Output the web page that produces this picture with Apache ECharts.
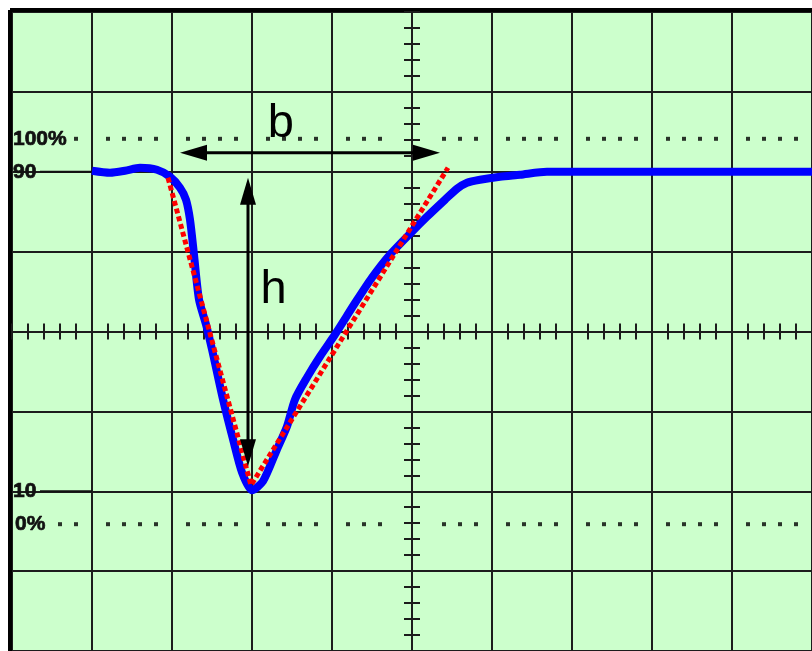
<!DOCTYPE html>
<html><head><meta charset="utf-8">
<script src="https://cdn.jsdelivr.net/npm/echarts@6/dist/echarts.min.js"></script>
<style>html,body{margin:0;padding:0;background:#fff}#c{width:812px;height:651px}</style>
</head><body><div id="c"></div>
<script>
// Units: screen divisions, origin at the centre of the graticule (x -5..5, y -4..4)
const signalX = [-4.0, -3.775, -3.5875, -3.4, -3.1875, -3.025, -2.9, -2.825, -2.775, -2.725, -2.6625, -2.575, -2.5, -2.3625, -2.2375, -2.125, -2.0, -1.8625, -1.6875, -1.5625, -1.4625, -1.3125, -1.15, -0.9625, -0.7, -0.5, -0.275, 0, 0.1875, 0.4125, 0.5625, 0.6875, 0.85, 1.1, 1.35, 1.6875, 1.975, 5.0];
const signalY = [2.0125, 1.9875, 2.0125, 2.05, 2.025, 1.9375, 1.8, 1.65, 1.4, 0.9625, 0.4, 0.0875, -0.225, -0.85, -1.35, -1.7625, -1.9875, -1.875, -1.475, -1.1875, -0.85, -0.575, -0.3125, -0.0375, 0.375, 0.675, 0.9625, 1.25, 1.4375, 1.65, 1.7875, 1.8625, 1.9, 1.9375, 1.9625, 2.0, 2.0, 2.0];
const slopeX = [-3.05, -2.0125, 0.45];
const slopeY = [1.925, -1.925, 2.05];
const levelLabels = ['100%', '90', '10', '0%'];
const levelValues = [2.4125, 2, -2, -2.4125];
const levelHasLine = [false, true, true, false];
const dotRowValues = [2.4125, -2.4125];
const dotRowStart = [-4.2, -4.4];
const arrowLabels = ['b', 'h'];
const arrowX1 = [-2.9, -2.05];
const arrowY1 = [2.2375, 1.925];
const arrowX2 = [0.35, -2.05];
const arrowY2 = [2.2375, -1.6875];
const arrowLabelX = [-1.64, -1.73];
const arrowLabelY = [2.594, 0.519];

const GRID = '#1c1c1c';
const chart = echarts.init(document.getElementById('c'), null, {renderer: 'canvas'});

const dots = [];
dotRowValues.forEach((y, r) => {
  for (let k = 0; k <= 50; k++) {
    const x = -5 + k * 0.2;
    if (k % 5 === 0 || k === 24 || k === 26) continue;
    if (x < dotRowStart[r] - 1e-6) continue;
    dots.push([x, y]);
  }
});

function centreAxis(dim, inside) {
  return {
    type: 'value', min: dim === 'x' ? -5 : -4, max: dim === 'x' ? 5 : 4, interval: 0.2,
    position: dim === 'x' ? 'bottom' : 'left',
    axisLine: {show: true, onZero: true, onZeroAxisIndex: 0, lineStyle: {color: GRID, width: 2}},
    axisTick: {show: true, inside: inside, length: 8, lineStyle: {color: GRID, width: 2}},
    axisLabel: {show: false}, splitLine: {show: false}
  };
}

const option = {
  backgroundColor: '#ffffff',
  animation: false,
  grid: {left: 12, top: 12, width: 800, height: 640, show: true, backgroundColor: '#ccffcc', borderWidth: 0},
  xAxis: [
    {type: 'value', min: -5, max: 5, interval: 1, position: 'top', offset: 2,
     axisLine: {show: true, onZero: false, lineStyle: {color: '#000', width: 4, cap: 'square'}},
     axisTick: {show: false}, axisLabel: {show: false},
     splitLine: {show: true, lineStyle: {color: GRID, width: 2}}},
    centreAxis('x', true), centreAxis('x', false)
  ],
  yAxis: [
    {type: 'value', min: -4, max: 4, interval: 1, position: 'left', offset: 2,
     axisLine: {show: true, onZero: false, lineStyle: {color: '#000', width: 4, cap: 'square'}},
     axisTick: {show: false}, axisLabel: {show: false},
     splitLine: {show: true, lineStyle: {color: GRID, width: 2}}},
    centreAxis('y', true), centreAxis('y', false)
  ],
  series: [
    {type: 'scatter', name: 'dots', data: dots, symbol: 'rect', symbolSize: 4, silent: true,
     itemStyle: {color: '#000'}, z: 3},
    {type: 'custom', name: 'levels', silent: true, z: 4,
     data: levelValues.map(v => [-5, v]),
     renderItem: function (params, api) {
       const i = params.dataIndex;
       const p = api.coord([api.value(0), api.value(1)]);
       const dx = levelLabels[i] === '0%' ? 3 : 1;
       const children = [{type: 'text', style: {x: p[0] + dx, y: p[1], text: levelLabels[i],
         font: 'bold 21px "Liberation Sans", Arial, sans-serif', fill: '#111', stroke: '#111', lineWidth: 0.7,
         textVerticalAlign: 'middle', textAlign: 'left'}}];
       if (levelHasLine[i]) {
         const e = api.coord([-4, api.value(1)]);
         children.push({type: 'line', shape: {x1: p[0] + 28, y1: p[1], x2: e[0], y2: e[1]}, style: {stroke: '#111', lineWidth: 2}});
       }
       return {type: 'group', children: children};
     }},
    {type: 'line', name: 'signal', data: signalX.map((x, i) => [x, signalY[i]]), smooth: 0.25,
     showSymbol: false, symbol: 'none', lineStyle: {color: '#0000ff', width: 8}, z: 5},
    {type: 'line', name: 'slope', data: slopeX.map((x, i) => [x, slopeY[i]]), showSymbol: false, symbol: 'none',
     lineStyle: {color: '#ff0000', width: 5, type: [5, 3]}, z: 6},
    {type: 'custom', name: 'arrows', silent: true, z: 7,
     data: arrowX1.map((x, i) => [x, arrowY1[i], arrowX2[i], arrowY2[i]]),
     encode: {x: [0, 2], y: [1, 3]},
     renderItem: function (params, api) {
       const i = params.dataIndex;
       const a = api.coord([api.value(0), api.value(1)]);
       const b = api.coord([api.value(2), api.value(3)]);
       const dx = b[0] - a[0], dy = b[1] - a[1], len = Math.hypot(dx, dy);
       const ux = dx / len, uy = dy / len, nx = -uy, ny = ux;
       const hl = 27, hw = 8;
       function head(t, s) {
         return [[t[0], t[1]], [t[0] - s * ux * hl + nx * hw, t[1] - s * uy * hl + ny * hw], [t[0] - s * ux * hl - nx * hw, t[1] - s * uy * hl - ny * hw]];
       }
       const lp = api.coord([arrowLabelX[i], arrowLabelY[i]]);
       return {type: 'group', children: [
         {type: 'line', shape: {x1: a[0] + ux * 10, y1: a[1] + uy * 10, x2: b[0] - ux * 10, y2: b[1] - uy * 10}, style: {stroke: '#000', lineWidth: 3}},
         {type: 'polygon', shape: {points: head(b, 1)}, style: {fill: '#000'}},
         {type: 'polygon', shape: {points: head(a, -1)}, style: {fill: '#000'}},
         {type: 'text', style: {x: lp[0], y: lp[1], text: arrowLabels[i], font: '47px "Liberation Sans", Arial, sans-serif', fill: '#000', textAlign: 'center', textVerticalAlign: 'middle'}}
       ]};
     }}
  ]
};
chart.setOption(option);
</script>
</body></html>
